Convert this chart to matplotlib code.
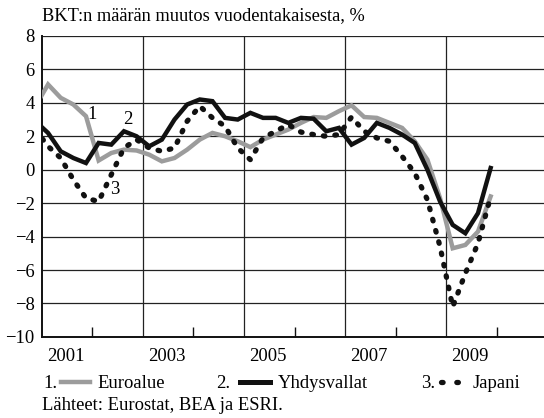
import matplotlib
matplotlib.use("Agg")
import matplotlib.pyplot as plt
from matplotlib.lines import Line2D
import numpy as np

# quarterly data, 2000Q4 .. 2009Q4 (plotted at quarter midpoints)
quarters = np.arange(37) * 0.25 + 2000.875
euro = [3.8,
        5.1, 4.3, 3.9, 3.2,
        0.55, 1.0, 1.2, 1.15,
        0.9, 0.5, 0.7, 1.2,
        1.8, 2.2, 2.0, 1.7,
        1.35, 1.8, 2.1, 2.4,
        2.8, 3.15, 3.1, 3.5,
        3.85, 3.15, 3.1, 2.8,
        2.5, 1.7, 0.6, -1.7,
        -4.7, -4.5, -3.7, -1.6]
usa = [2.9,
       2.2, 1.1, 0.7, 0.4,
       1.6, 1.5, 2.3, 2.0,
       1.4, 1.8, 3.0, 3.9,
       4.2, 4.1, 3.1, 3.0,
       3.4, 3.1, 3.1, 2.8,
       3.1, 3.05, 2.3, 2.5,
       1.5, 1.9, 2.8, 2.5,
       2.1, 1.6, 0.0, -1.9,
       -3.3, -3.8, -2.6, 0.1]
japan = [2.4,
         1.4, 0.7, -0.6, -1.7,
         -1.9, -0.3, 1.3, 1.8,
         1.3, 1.1, 1.3, 2.9,
         3.8, 3.1, 2.6, 1.3,
         0.6, 1.9, 2.3, 2.7,
         2.25, 2.1, 2.0, 2.1,
         3.15, 2.3, 1.9, 1.7,
         0.8, -0.2, -1.8, -4.6,
         -8.2, -6.2, -4.4, -1.6]

year_labels = ["2001", "2003", "2005", "2007", "2009"]
label_years = [2001, 2003, 2005, 2007, 2009]
yticks = [-10, -8, -6, -4, -2, 0, 2, 4, 6, 8]

series_names = ["Euroalue", "Yhdysvallat", "Japani"]
title = "BKT:n määrän muutos vuodentakaisesta, %"
source = "Lähteet: Eurostat, BEA ja ESRI."

plt.rcParams['font.family'] = ['Liberation Serif', 'DejaVu Serif']
plt.rcParams['axes.unicode_minus'] = True
FS = 13.4
GREY = "#9c9c9c"
DOTS = (0, (0.3, 1.9))

fig = plt.figure(figsize=(5.44, 4.18), dpi=100)
ax = fig.add_axes([0.0767, 0.194, 0.9233, 0.7200])
ax.set_xlim(2001, 2010.93)
ax.set_ylim(-10, 8)

# grid
for yv in yticks[1:]:
    ax.axhline(yv, color="#222222", lw=0.9, zorder=1)
for xv in [2003, 2005, 2007, 2009]:
    ax.axvline(xv, color="#222222", lw=0.9, zorder=1)

ax.plot(quarters, euro, color=GREY, lw=3.2, solid_joinstyle='miter', zorder=3)
ax.plot(quarters, usa, color="#111111", lw=3.2, solid_joinstyle='miter', zorder=4)
ax.plot(quarters, japan, color="#111111", lw=3.8, linestyle=DOTS,
        dash_capstyle='round', zorder=5)

for s in ['top', 'right']:
    ax.spines[s].set_visible(False)
for s in ['left', 'bottom']:
    ax.spines[s].set_linewidth(1.4)
    ax.spines[s].set_color("#111111")

ax.set_yticks(yticks)
ax.set_yticklabels([("\u2212" + str(-v)) if v < 0 else str(v) for v in yticks], fontsize=FS)
ax.tick_params(axis='y', length=0, pad=5)

ax.set_xticks([y + 0.47 for y in label_years])
ax.set_xticklabels(year_labels, fontsize=FS)
ax.set_xticks([2002, 2004, 2006, 2008, 2010], minor=True)
ax.tick_params(axis='x', which='major', length=0, pad=8)
ax.tick_params(axis='x', which='minor', direction='in', length=7, width=1.0, color="#111111")

# series labels
ax.text(2002.0, 3.3, "1", fontsize=FS, ha='center', va='center')
ax.text(2002.7, 3.0, "2", fontsize=FS, ha='center', va='center')
ax.text(2002.45, -1.2, "3", fontsize=FS, ha='center', va='center')

fig.text(0.0765, 1 - 16 / 418, title, fontsize=13.2, ha='left', va='center')

# legend (manual)
ly = 1 - 383 / 418
entries = [("1.", 43, 61, 90, 97, dict(color=GREY, lw=3.2)),
           ("2.", 216, 240, 270, 278, dict(color="#111111", lw=3.6)),
           ("3.", 421, 441, 467, 473, dict(color="#111111", lw=3.8, linestyle=(0, (0.3, 2.6)),
                                           dash_capstyle='round'))]
for (num, xn, x0, x1, xt, style), name in zip(entries, series_names):
    fig.text(xn / 544, ly, num, fontsize=FS, ha='left', va='center')
    fig.add_artist(Line2D([x0 / 544, x1 / 544], [ly + 0.002, ly + 0.002], transform=fig.transFigure, **style))
    fig.text(xt / 544, ly, name, fontsize=FS, ha='left', va='center')

fig.text(0.0765, 1 - 406 / 418, source, fontsize=FS, ha='left', va='center')

fig.savefig("out.png", dpi=100)
